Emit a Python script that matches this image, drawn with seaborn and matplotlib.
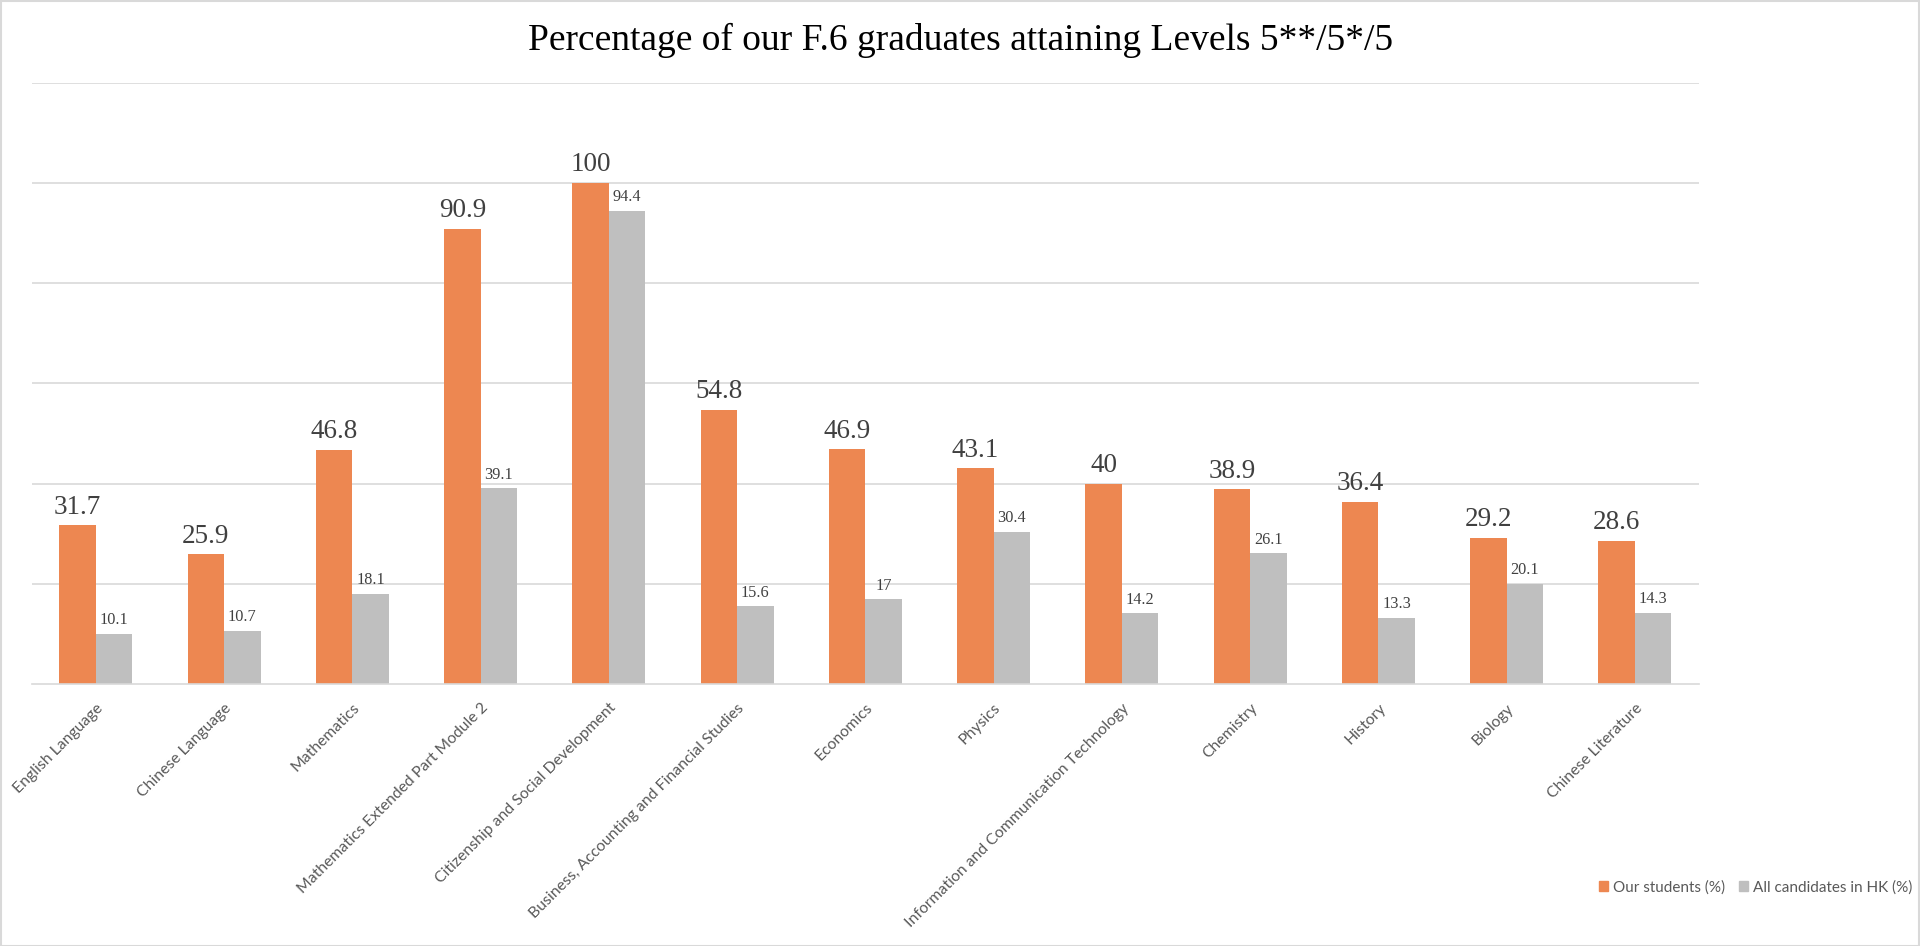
import matplotlib
matplotlib.use("Agg")
import matplotlib.pyplot as plt
import seaborn as sns
import pandas as pd
from matplotlib.patches import Rectangle

subjects = [
    "English Language", "Chinese Language", "Mathematics",
    "Mathematics Extended Part Module 2", "Citizenship and Social Development",
    "Business, Accounting and Financial Studies", "Economics", "Physics",
    "Information and Communication Technology", "Chemistry", "History",
    "Biology", "Chinese Literature",
]
our_students = [31.7, 25.9, 46.8, 90.9, 100, 54.8, 46.9, 43.1, 40, 38.9, 36.4, 29.2, 28.6]
all_hk = [10.1, 10.7, 18.1, 39.1, 94.4, 15.6, 17, 30.4, 14.2, 26.1, 13.3, 20.1, 14.3]
series_names = ["Our students (%)", "All candidates in HK (%)"]
title = "Percentage of our F.6 graduates attaining Levels 5**/5*/5"

df = pd.DataFrame({
    "subject": subjects * 2,
    "value": our_students + all_hk,
    "series": [series_names[0]] * len(subjects) + [series_names[1]] * len(subjects),
})

sns.set_theme(style="white")
plt.rcParams["font.family"] = ["Lato", "DejaVu Sans"]

W, H = 1920, 946
fig = plt.figure(figsize=(W / 100, H / 100), dpi=100)
ax = fig.add_axes([31.7 / W, 1 - 684.3 / H, (1699 - 31.7) / W, (684.3 - 82.7) / H])

orange = "#ED8751"
gray = "#BFBFBF"
sns.barplot(data=df, x="subject", y="value", hue="series", palette=[orange, gray],
            width=0.57, ax=ax, linewidth=0, legend=False, saturation=1)

ax.set_ylim(0, 120)
ax.set_xlim(-0.5, len(subjects) - 0.5)
ax.set_yticks([20, 40, 60, 80, 100, 120])
ax.set_yticklabels([])
ax.yaxis.grid(True, color="#d9d9d9", linewidth=1.2)
ax.set_axisbelow(True)
for s in ["left", "right", "top"]:
    ax.spines[s].set_visible(False)
ax.spines["bottom"].set_color("#d9d9d9")
ax.spines["bottom"].set_linewidth(1.2)
ax.tick_params(axis="both", length=0)
ax.set_xlabel("")
ax.set_ylabel("")

ax.set_xticks(range(len(subjects)))
ax.set_xticklabels(subjects, rotation=45, ha="right", va="top", rotation_mode="anchor",
                   fontsize=11.3, color="#595959")
ax.tick_params(axis="x", pad=12)

ax.bar_label(ax.containers[0], labels=[f"{v:g}" for v in our_students], padding=4,
             fontsize=19.5, color="#404040", family="Liberation Serif")
ax.bar_label(ax.containers[1], labels=[f"{v:g}" for v in all_hk], padding=4,
             fontsize=11.7, color="#404040", family="Liberation Serif")

fig.text(961 / W, 1 - 50 / H, title, ha="center", va="baseline", fontsize=27,
         family="Liberation Serif", color="black")

handles = [Rectangle((0, 0), 1, 1, color=orange), Rectangle((0, 0), 1, 1, color=gray)]
fig.legend(handles, series_names, loc="center right", bbox_to_anchor=(1912 / W, 1 - 887.5 / H),
           ncol=2, frameon=False, fontsize=11, handlelength=0.6, handleheight=0.6,
           handletextpad=0.3, columnspacing=0.9, borderaxespad=0, borderpad=0,
           labelcolor="#595959")

fig.patches.append(Rectangle((0.5 / W, 0.5 / H), 1 - 1.5 / W, 1 - 1.5 / H, transform=fig.transFigure,
                             fill=False, edgecolor="#d9d9d9", linewidth=1.5))

fig.savefig("out.png", dpi=100)
